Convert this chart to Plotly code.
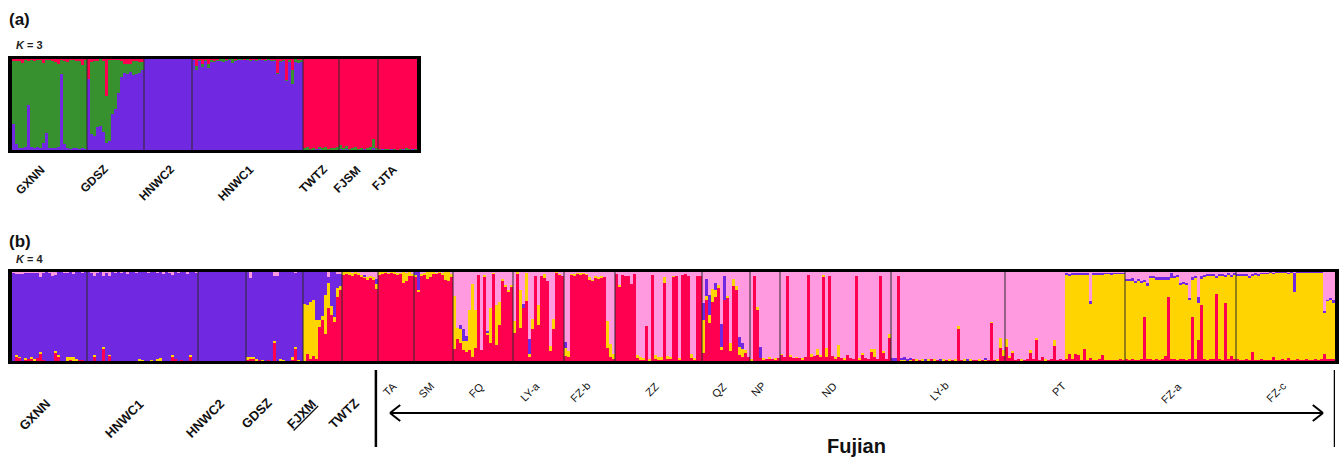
import plotly.graph_objects as go

W, H = 1341, 460

PURPLE = '#7028E0'
RED = '#FF0050'
GREEN = '#37912F'
YELLOW = '#FFD400'
PINK = '#FF99E0'
FONT = 'Liberation Sans, Arial, sans-serif'

# ---------------- panel (a): K = 3 ----------------
A_POPS = ['GXNN', 'GDSZ', 'HNWC2', 'HNWC1', 'TWTZ', 'FJSM', 'FJTA']
# membership (%) of each individual; red = remainder
A_PURPLE = [
    [29, 7, 2, 2, 3, 49, 3, 2, 3, 2, 8, 19, 2, 2, 2, 3, 83, 7, 2, 1, 2, 2, 1, 2, 1],
    [78, 18, 15, 25, 26, 20, 8, 10, 40, 45, 63, 80, 85, 83, 86, 82, 84, 85, 88],
    [100, 100, 100, 100, 100, 100, 100, 100, 100, 100, 100, 100, 100, 100, 100, 100],
    [99, 88, 98, 91, 98, 90, 97, 97, 98, 98, 97, 98, 99, 96, 98, 99, 99, 99, 99, 98,
     99, 98, 99, 99, 98, 99, 98, 98, 84, 97, 98, 76, 97, 73, 97, 96, 97],
    [1, 1, 0, 1, 1, 2, 1, 1, 0, 1, 1, 1],
    [1, 1, 1, 0, 1, 1, 0, 1, 1, 1, 1, 2, 1],
    [0, 1, 0, 0, 1, 0, 0, 0, 1, 0, 0, 1, 0],
]
A_GREEN = [
    [69, 91, 96, 94, 96, 49, 96, 96, 96, 97, 88, 80, 97, 96, 95, 92, 16, 91, 95, 98, 97, 96, 97, 91, 98],
    [0, 79, 83, 73, 74, 78, 51, 89, 59, 54, 36, 18, 10, 12, 9, 16, 14, 12, 9],
    [0, 0, 0, 0, 0, 0, 0, 0, 0, 0, 0, 0, 0, 0, 0, 0],
    [0, 4, 1, 3, 1, 5, 2, 1, 1, 2, 3, 1, 1, 4, 1, 1, 1, 0, 1, 1,
     0, 1, 1, 0, 1, 1, 1, 1, 1, 1, 1, 1, 2, 15, 3, 3, 2],
    [1, 2, 1, 1, 0, 1, 1, 2, 1, 1, 1, 2],
    [4, 1, 3, 1, 1, 2, 1, 1, 0, 1, 2, 10, 1],
    [1, 0, 1, 1, 0, 1, 0, 1, 0, 2, 1, 0, 1],
]

# ---------------- panel (b): K = 4 ----------------
B_MAIN_POPS = ['GXNN', 'HNWC1', 'HNWC2', 'GDSZ', '<u>FJXM</u>', 'TWTZ']
B_FUJIAN_POPS = ['TA', 'SM', 'FQ', 'LY-a', 'FZ-b', 'ZZ', 'QZ', 'NP', 'ND', 'LY-b', 'PT', 'FZ-a', 'FZ-c']
# membership (%) per individual; pink = remainder
B_RED = [
    [0, 5, 4, 0, 2, 2, 3, 1, 3, 8, 1, 0, 0, 0, 9, 5, 0, 0, 0, 1, 0, 0, 1, 1, 0],
    [0, 0, 5, 0, 0, 13, 0, 6, 0, 0, 0, 0, 0, 0, 0, 0, 0, 0, 0, 0,
     0, 0, 0, 0, 1, 0, 0, 0, 5, 2, 0, 1, 0, 0, 4, 0, 0],
    [0, 0, 0, 0, 0, 0, 0, 0, 0, 0, 0, 0, 0, 0, 0, 0],
    [2, 2, 3, 1, 1, 0, 0, 1, 0, 20, 0, 0, 0, 0, 0, 1, 13, 0, 0],
    [0, 8, 2, 6, 2, 38, 46, 30, 60, 52, 44, 72, 80],
    [97, 98, 97, 96, 98, 97, 95, 94, 92, 94, 91, 81],
    [97, 98, 99, 98, 99, 98, 97, 98, 88, 90, 96, 95],
    [94, 78, 95, 97, 92, 94, 98, 98, 99, 97, 91, 90, 94],
    [13, 25, 20, 12, 10, 12, 5, 15, 97, 12, 95, 30, 20, 98, 18, 40, 90, 84, 78, 84],
    [32, 98, 37, 60, 67, 4, 36, 95, 41, 95, 93, 90, 11, 36, 99, 97, 96],
    [6, 5, 97, 96, 98, 97, 98, 97, 92, 90, 94, 93, 94, 94, 15, 4, 2],
    [98, 84, 97, 96, 95, 86, 98, 3, 2, 2, 39, 1, 97, 2, 1, 2, 88, 2, 2, 95,
     95, 2, 97, 98, 96, 3, 2, 96, 96],
    [9, 69, 43, 66, 72, 83, 12, 69, 71, 11, 84, 80, 7, 4, 9, 4],
    [1, 96, 57, 3, 2, 2, 3, 2, 2, 3],
    [7, 4, 96, 5, 3, 4, 3, 2, 4, 97, 4, 6, 7, 5, 94, 4, 95, 6, 3, 5,
     3, 2, 7, 3, 2, 96, 2, 7, 3, 2, 11, 4, 2, 96, 9, 2, 26],
    [1, 1, 96, 1, 1, 1, 1, 2, 1, 1, 1, 1, 1, 2, 1, 1, 1, 1, 1, 1,
     1, 1, 37, 1, 1, 1, 1, 1, 1, 1, 1, 1, 1, 43, 1, 1, 15, 6],
    [16, 4, 10, 1, 2, 1, 1, 2, 10, 2, 24, 1, 5, 1, 1, 2, 17, 1, 2, 1,
     2, 8, 2, 8, 7, 1, 13, 1, 3, 1, 1, 2, 7, 1, 1, 1, 1, 1, 2, 1],
    [2, 1, 2, 1, 1, 2, 49, 2, 2, 1, 2, 1, 2, 6, 72, 2, 2, 1, 2, 2,
     1, 2, 49, 2, 24, 63, 2, 1, 2, 2, 75, 2, 1, 65, 2, 6, 2],
    [2, 1, 1, 2, 1, 10, 1, 1, 2, 1, 1, 1, 5, 1, 1, 2, 1, 3, 1, 1,
     2, 1, 1, 2, 1, 1, 2, 1, 2, 8, 2, 2, 2],
]
B_YELLOW = [
    [0, 2, 1, 0, 1, 0, 1, 1, 0, 2, 0, 0, 0, 0, 2, 2, 0, 0, 4, 3, 4, 2, 0, 0, 0],
    [0, 0, 2, 0, 0, 3, 0, 1, 0, 0, 0, 0, 0, 0, 0, 0, 0, 2, 1, 0,
     0, 1, 0, 2, 2, 0, 0, 0, 2, 0, 0, 0, 0, 0, 3, 0, 0],
    [0, 0, 0, 0, 0, 0, 0, 0, 0, 0, 0, 0, 0, 0, 0, 0],
    [2, 3, 1, 1, 0, 1, 0, 0, 0, 3, 0, 2, 1, 0, 0, 3, 3, 1, 0],
    [64, 55, 64, 62, 44, 8, 5, 44, 28, 10, 6, 10, 4],
    [3, 2, 3, 3, 2, 2, 2, 1, 2, 2, 3, 5],
    [3, 2, 1, 1, 1, 2, 2, 1, 12, 9, 4, 3],
    [3, 2, 3, 2, 8, 6, 2, 1, 1, 2, 9, 10, 4],
    [60, 12, 16, 10, 12, 45, 82, 42, 0, 0, 2, 2, 40, 1, 45, 26, 2, 1, 2, 1],
    [13, 2, 43, 0, 32, 4, 11, 0, 22, 0, 5, 0, 6, 11, 1, 1, 0],
    [9, 6, 1, 2, 1, 2, 1, 1, 2, 1, 2, 1, 2, 0, 30, 15, 6],
    [0, 1, 0, 0, 0, 0, 0, 4, 2, 1, 0, 1, 0, 5, 3, 2, 6, 4, 3, 1,
     0, 1, 0, 0, 0, 5, 1, 0, 0],
    [37, 4, 9, 15, 8, 2, 4, 0, 2, 9, 8, 4, 9, 9, 3, 0],
    [1, 0, 4, 0, 1, 0, 1, 0, 1, 0],
    [1, 0, 0, 2, 0, 1, 0, 1, 0, 0, 4, 0, 7, 2, 3, 11, 0, 0, 1, 13,
     0, 1, 0, 0, 0, 0, 1, 2, 0, 0, 2, 9, 0, 0, 2, 0, 4],
    [0, 0, 0, 1, 1, 0, 1, 0, 1, 0, 1, 0, 1, 0, 1, 0, 0, 1, 0, 1,
     0, 1, 2, 0, 1, 0, 1, 0, 0, 1, 0, 1, 0, 1, 0, 1, 11, 6],
    [9, 2, 1, 0, 0, 1, 0, 0, 2, 0, 2, 0, 0, 1, 0, 0, 7, 0, 0, 0,
     95, 88, 95, 89, 90, 96, 84, 96, 62, 96, 96, 95, 90, 97, 97, 96, 97, 97, 96, 97],
    [88, 89, 88, 87, 89, 86, 40, 82, 92, 93, 90, 91, 90, 86, 20, 91, 92, 93, 84, 85,
     84, 67, 43, 92, 41, 30, 93, 95, 94, 94, 19, 94, 95, 30, 95, 89, 95],
    [93, 94, 95, 93, 93, 86, 96, 95, 96, 97, 97, 98, 93, 98, 98, 97, 98, 95, 98, 77,
     97, 98, 98, 97, 98, 98, 97, 98, 97, 47, 66, 66, 63],
]
B_PURPLE = [
    [99, 91, 93, 98, 96, 97, 95, 97, 96, 84, 98, 100, 99, 96, 86, 93, 100, 99, 95, 96, 94, 98, 99, 98, 100],
    [100, 99, 88, 99, 100, 79, 99, 89, 100, 99, 100, 99, 100, 98, 100, 100, 99, 98, 99, 100,
     99, 99, 100, 97, 97, 98, 100, 99, 90, 98, 99, 99, 100, 98, 93, 100, 99],
    [100, 100, 100, 100, 100, 100, 100, 100, 100, 100, 100, 100, 100, 100, 100, 100],
    [96, 88, 96, 98, 99, 99, 100, 99, 100, 72, 95, 98, 99, 100, 100, 96, 83, 99, 100],
    [36, 37, 34, 32, 54, 54, 49, 26, 6, 38, 50, 16, 14],
    [0, 0, 0, 0, 0, 0, 0, 2, 0, 0, 0, 6],
    [0, 0, 0, 0, 0, 0, 0, 0, 0, 0, 0, 0],
    [3, 20, 0, 0, 0, 0, 0, 0, 0, 0, 0, 0, 0],
    [0, 0, 5, 14, 6, 0, 0, 0, 0, 0, 0, 2, 0, 0, 0, 0, 0, 0, 0, 0],
    [0, 0, 0, 4, 0, 17, 0, 0, 0, 0, 0, 0, 0, 0, 0, 0, 0],
    [6, 0, 0, 0, 0, 0, 0, 0, 0, 0, 0, 0, 0, 0, 0, 0, 0],
    [0, 0, 0, 0, 0, 0, 0, 0, 0, 0, 0, 0, 0, 0, 0, 0, 0, 0, 0, 0,
     0, 0, 0, 0, 0, 0, 0, 0, 0],
    [19, 19, 22, 0, 8, 0, 26, 26, 0, 0, 0, 0, 11, 7, 0, 0],
    [0, 0, 0, 13, 0, 0, 0, 0, 0, 0],
    [0, 0, 0, 0, 0, 0, 0, 0, 0, 0, 0, 0, 0, 0, 0, 0, 0, 0, 0, 0,
     0, 0, 0, 0, 0, 0, 0, 0, 0, 0, 0, 0, 0, 0, 0, 0, 0],
    [2, 2, 0, 1, 2, 1, 1, 0, 0, 0, 0, 1, 0, 0, 0, 0, 1, 0, 0, 0,
     0, 0, 0, 0, 0, 1, 0, 0, 0, 0, 0, 1, 0, 0, 0, 0, 0, 0],
    [0, 0, 0, 0, 0, 0, 0, 0, 0, 0, 0, 0, 0, 0, 0, 0, 0, 0, 0, 0,
     2, 2, 2, 2, 2, 2, 2, 2, 2, 2, 2, 2, 2, 1, 1, 2, 1, 1, 1, 1],
    [2, 2, 3, 2, 2, 2, 2, 4, 2, 2, 2, 2, 2, 2, 2, 6, 2, 3, 2, 2,
     3, 2, 2, 2, 7, 2, 2, 2, 2, 2, 2, 2, 2, 2, 2, 2, 2],
    [3, 3, 2, 3, 2, 2, 2, 2, 1, 1, 1, 1, 1, 1, 1, 1, 1, 1, 1, 21,
     1, 1, 1, 1, 1, 1, 1, 1, 1, 1, 1, 3, 4],
]

# label x-shifts (px)
A_LABEL_SHIFT = [1, -2, 12, 12, 12, 8, 5]
B_MAIN_SHIFT = [7, 7, 8, 3, 0, 5]


def flat(lists):
    return [v for sub in lists for v in sub]


def px(p):
    return p / W


def py(p):
    return 1 - p / H


a_sizes = [len(s) for s in A_PURPLE]
a_pur = flat(A_PURPLE)
a_grn = flat(A_GREEN)
a_red = [100 - p - g for p, g in zip(a_pur, a_grn)]
a_x = list(range(len(a_pur)))

b_sizes = [len(s) for s in B_RED]
b_red = flat(B_RED)
b_yel = flat(B_YELLOW)
b_pur = flat(B_PURPLE)
b_pink = [100 - r - y - p for r, y, p in zip(b_red, b_yel, b_pur)]
b_x = list(range(len(b_red)))

fig = go.Figure()
for vals, col in [(a_pur, PURPLE), (a_grn, GREEN), (a_red, RED)]:
    fig.add_trace(go.Bar(x=a_x, y=vals, marker=dict(color=col, line=dict(width=0)),
                         width=1, xaxis='x', yaxis='y', hoverinfo='skip'))
for vals, col in [(b_red, RED), (b_yel, YELLOW), (b_pur, PURPLE), (b_pink, PINK)]:
    fig.add_trace(go.Bar(x=b_x, y=vals, marker=dict(color=col, line=dict(width=0)),
                         width=1, xaxis='x2', yaxis='y2', hoverinfo='skip'))


def bounds(sizes):
    out, c = [], 0
    for s in sizes:
        out.append((c, c + s))
        c += s
    return out


shapes = []
annotations = []

a_b = bounds(a_sizes)
for (s, e) in a_b[:-1]:
    shapes.append(dict(type='line', xref='x', yref='y', x0=e - 0.5, x1=e - 0.5, y0=0, y1=100,
                       line=dict(color='#2b2b2b', width=1), layer='above'))
b_b = bounds(b_sizes)
for (s, e) in b_b[:-1]:
    shapes.append(dict(type='line', xref='x2', yref='y2', x0=e - 0.5, x1=e - 0.5, y0=0, y1=100,
                       line=dict(color='#2b2b2b', width=1), layer='above'))

# panel (a) population labels
for name, (s, e), sh in zip(A_POPS, a_b, A_LABEL_SHIFT):
    annotations.append(dict(text='<b>' + name + '</b>', x=(s + e - 1) / 2, xref='x', y=py(160), yref='paper',
                            xanchor='right', yanchor='top', textangle=-45, showarrow=False, xshift=sh,
                            font=dict(family=FONT, size=12, color='#111')))

# panel (b) labels
n_main = len(B_MAIN_POPS)
for name, (s, e), sh in zip(B_MAIN_POPS, b_b[:n_main], B_MAIN_SHIFT):
    annotations.append(dict(text='<b>' + name + '</b>', x=(s + e - 1) / 2, xref='x2', y=py(393), yref='paper',
                            xanchor='right', yanchor='top', textangle=-45, showarrow=False, xshift=sh,
                            font=dict(family=FONT, size=13, color='#111')))
for name, (s, e) in zip(B_FUJIAN_POPS, b_b[n_main:]):
    annotations.append(dict(text=name, x=(s + e - 1) / 2, xref='x2', y=py(377), yref='paper',
                            xanchor='right', yanchor='top', textangle=-45, showarrow=False, xshift=6,
                            font=dict(family=FONT, size=11, color='#111')))

# Fujian bracket and arrow
fj_start = b_b[n_main][0] - 0.5
fj_end = b_b[-1][1] - 0.5
lc = dict(color='black', width=2.5)
shapes.append(dict(type='line', xref='x2', yref='paper', x0=fj_start - 0.7, x1=fj_start - 0.7,
                   y0=py(370), y1=py(447), line=lc))
shapes.append(dict(type='line', xref='x2', yref='paper', x0=fj_end, x1=fj_end,
                   y0=py(370), y1=py(447), line=lc))
ax0 = fj_start + 4
ax1 = fj_end - 4
ay = py(413)
shapes.append(dict(type='line', xref='x2', yref='paper', x0=ax0, x1=ax1, y0=ay, y1=ay,
                   line=dict(color='black', width=2)))
for tip, d in [(ax0, 1), (ax1, -1)]:
    for dy in (8, -8):
        shapes.append(dict(type='line', xref='x2', yref='paper', x0=tip, x1=tip + d * 3.4,
                           y0=ay, y1=ay + dy / H, line=dict(color='black', width=2)))

annotations.append(dict(text='<b>Fujian</b>', x=(ax0 + ax1) / 2, xref='x2', y=py(446), yref='paper',
                        xanchor='center', yanchor='middle', showarrow=False,
                        font=dict(family=FONT, size=20, color='#111')))

# panel titles
annotations += [
    dict(text='<b>(a)</b>', x=px(7), y=py(20), xref='paper', yref='paper', xanchor='left', yanchor='middle',
         showarrow=False, font=dict(family=FONT, size=17, color='#111')),
    dict(text='<b><i>K</i> = 3</b>', x=px(14), y=py(45), xref='paper', yref='paper', xanchor='left',
         yanchor='middle', showarrow=False, font=dict(family=FONT, size=11, color='#222')),
    dict(text='<b>(b)</b>', x=px(7), y=py(241), xref='paper', yref='paper', xanchor='left', yanchor='middle',
         showarrow=False, font=dict(family=FONT, size=17, color='#111')),
    dict(text='<b><i>K</i> = 4</b>', x=px(14), y=py(259), xref='paper', yref='paper', xanchor='left',
         yanchor='middle', showarrow=False, font=dict(family=FONT, size=11, color='#222')),
]

axis_common = dict(showline=True, mirror=True, linecolor='black', showticklabels=False, ticks='',
                   showgrid=False, zeroline=False, fixedrange=True)

fig.update_layout(
    width=W, height=H, margin=dict(l=0, r=0, t=0, b=0),
    paper_bgcolor='white', plot_bgcolor='white',
    barmode='stack', bargap=0, showlegend=False,
    xaxis=dict(domain=[px(12), px(417)], range=[-0.5, len(a_x) - 0.5], anchor='y', linewidth=3, **axis_common),
    yaxis=dict(domain=[py(150), py(59)], range=[0, 100], anchor='x', linewidth=4, **axis_common),
    xaxis2=dict(domain=[px(12), px(1335)], range=[-0.5, len(b_x) - 0.5], anchor='y2', linewidth=3, **axis_common),
    yaxis2=dict(domain=[py(361), py(272)], range=[0, 100], anchor='x2', linewidth=4, **axis_common),
    shapes=shapes, annotations=annotations,
)

fig.write_html('out.html', config={'displayModeBar': False},
               post_script="document.body.style.margin='0';document.body.style.overflow='hidden';")
